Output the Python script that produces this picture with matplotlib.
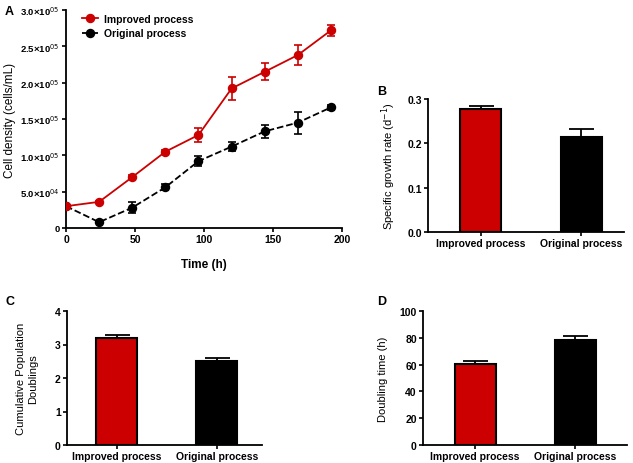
import matplotlib
matplotlib.use("Agg")
import matplotlib.pyplot as plt
from matplotlib.lines import Line2D

plt.rcParams['font.family'] = ['Liberation Sans', 'DejaVu Sans']

# ---- data ----
time_h = [0, 24, 48, 72, 96, 120, 144, 168, 192]
improved_density = [3.0e4, 3.6e4, 7.0e4, 1.05e5, 1.28e5, 1.92e5, 2.15e5, 2.38e5, 2.72e5]
improved_err = [500, 1000, 3000, 2500, 1.0e4, 1.6e4, 1.2e4, 1.4e4, 8000]
original_density = [3.0e4, 8.0e3, 2.8e4, 5.6e4, 9.2e4, 1.12e5, 1.33e5, 1.45e5, 1.66e5]
original_err = [500, 1000, 8000, 4000, 7000, 6000, 9000, 1.5e4, 3000]

processes = ["Improved process", "Original process"]
growth_rate = [0.277, 0.215]
growth_rate_err = [0.007, 0.018]
cum_doublings = [3.20, 2.50]
cum_doublings_err = [0.07, 0.09]
doubling_time = [60.5, 78.3]
doubling_time_err = [2.0, 2.7]

a_yticks = [0, 5.0e4, 1.0e5, 1.5e5, 2.0e5, 2.5e5, 3.0e5]
a_yticklabels = ['0', '5.0×10$^{04}$', '1.0×10$^{05}$', '1.5×10$^{05}$',
                 '2.0×10$^{05}$', '2.5×10$^{05}$', '3.0×10$^{05}$']

RED = '#CC0000'
W, H = 633, 464
fig = plt.figure(figsize=(W / 100, H / 100), dpi=100)


def ax_px(left, right, top, bottom):
    return fig.add_axes([left / W, 1 - bottom / H, (right - left) / W, (bottom - top) / H])


def style(ax, size=7.5):
    for s in ['top', 'right']:
        ax.spines[s].set_visible(False)
    for s in ['left', 'bottom']:
        ax.spines[s].set_linewidth(1.3)
    ax.tick_params(direction='out', length=3, width=1.2, labelsize=size, pad=1.5)
    for lab in ax.get_xticklabels() + ax.get_yticklabels():
        lab.set_fontweight('bold')


# ---- Panel A ----
axA = ax_px(66, 342, 11, 229)
axA.errorbar(time_h, original_density, yerr=original_err, color='black', marker='o',
             ms=5.8, lw=1.3, ls='--', capsize=3, elinewidth=1.2, capthick=1.2, zorder=3)
axA.errorbar(time_h, improved_density, yerr=improved_err, color=RED, marker='o',
             ms=5.8, lw=1.3, capsize=3, elinewidth=1.2, capthick=1.2, zorder=4)
axA.set_xlim(0, 200)
axA.set_ylim(0, 3.0e5)
axA.set_xticks([0, 50, 100, 150, 200])
axA.set_yticks(a_yticks)
axA.set_yticklabels(a_yticklabels)
axA.set_xlabel('Time (h)', fontweight='bold', fontsize=8.5, labelpad=10)
axA.set_ylabel('Cell density (cells/mL)', fontsize=8.5)
axA.yaxis.set_label_coords(-0.181, 0.5)
style(axA)
axA.tick_params(axis='y', labelsize=6.8)
h1 = Line2D([], [], color=RED, marker='o', ms=5.8, lw=1.3)
h2 = Line2D([], [], color='black', marker='o', ms=5.8, lw=1.3, ls='--')
axA.legend([h1, h2], ['Improved process', 'Original process'], loc='upper left',
           bbox_to_anchor=(0.058, 0.983), frameon=False, handlelength=1.5,
           handletextpad=0.6, borderpad=0, borderaxespad=0,
           prop={'weight': 'bold', 'size': 7.5}, labelspacing=0.45)


def bar_panel(ax, vals, errs, ylim, yticks, ylabel, xlim, fmt, labx):
    x = [0, 1]
    ax.bar(x, vals, width=0.41, color=[RED, 'black'], edgecolor='black', linewidth=1.5, zorder=2)
    ax.errorbar(x, vals, yerr=[[0, 0], errs], fmt='none', ecolor='black',
                elinewidth=1.3, capsize=9, capthick=1.3, zorder=1)
    ax.set_xlim(*xlim)
    ax.set_ylim(*ylim)
    ax.set_yticks(yticks)
    ax.set_yticklabels([fmt.format(v) for v in yticks])
    ax.set_xticks(x)
    ax.set_xticklabels(processes)
    ax.set_ylabel(ylabel, fontsize=8)
    ax.yaxis.set_label_coords(labx, 0.5)
    style(ax)


axB = ax_px(428, 624, 100, 233)
bar_panel(axB, growth_rate, growth_rate_err, (0, 0.3), [0.0, 0.1, 0.2, 0.3],
          'Specific growth rate (d$^{-1}$)', (-0.53, 1.43), '{:.1f}', -0.153)

axC = ax_px(67, 262, 312, 446)
bar_panel(axC, cum_doublings, cum_doublings_err, (0, 4), [0, 1, 2, 3, 4],
          'Cumulative Population\nDoublings', (-0.494, 1.45), '{:d}', -0.149)

axD = ax_px(423, 627, 312, 446)
bar_panel(axD, doubling_time, doubling_time_err, (0, 100), [0, 20, 40, 60, 80, 100],
          'Doubling time (h)', (-0.52, 1.52), '{:d}', -0.172)

for lbl, (px, py) in zip('ABCD', [(5, 12), (377, 92), (5, 302), (377, 302)]):
    fig.text(px / W, 1 - py / H, lbl, fontsize=9, fontweight='bold', va='center', ha='left')

fig.savefig('out.png', dpi=100)
